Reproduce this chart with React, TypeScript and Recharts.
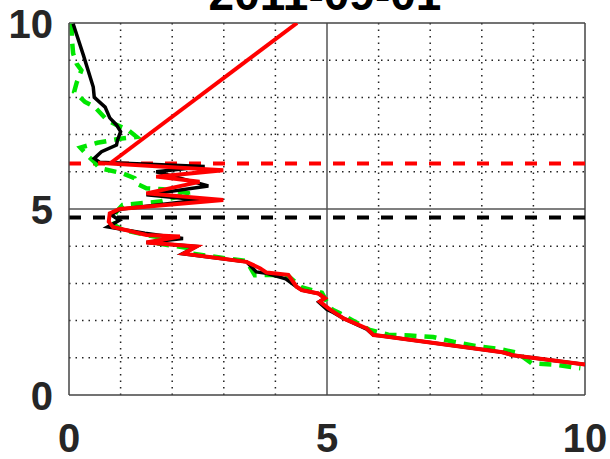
import React from 'react';
import { LineChart, Line, XAxis, YAxis, ReferenceLine } from 'recharts';

const TITLE = '2011-09-01';

const axisTicks = [0, 5, 10];
const gridSteps = [1, 2, 3, 4, 6, 7, 8, 9];

const blackLevel = 4.77;
const redLevel = 6.22;

const blackProfile = [
  { x: 0.08, y: 9.98 }, { x: 0.28, y: 9.13 }, { x: 0.47, y: 8.28 }, { x: 0.49, y: 8.0 },
  { x: 0.7, y: 7.74 }, { x: 0.79, y: 7.45 }, { x: 0.92, y: 7.26 }, { x: 1.0, y: 7.08 },
  { x: 0.94, y: 6.85 }, { x: 0.92, y: 6.72 }, { x: 0.63, y: 6.54 }, { x: 0.49, y: 6.36 },
  { x: 0.59, y: 6.26 }, { x: 2.63, y: 6.14 }, { x: 1.69, y: 6.0 }, { x: 2.7, y: 5.62 },
  { x: 1.5, y: 5.38 }, { x: 2.53, y: 5.24 }, { x: 0.98, y: 4.99 }, { x: 0.82, y: 4.84 },
  { x: 0.98, y: 4.7 }, { x: 0.75, y: 4.52 }, { x: 1.47, y: 4.35 }, { x: 2.21, y: 4.21 },
  { x: 1.5, y: 4.1 }, { x: 2.47, y: 3.99 }, { x: 2.2, y: 3.8 }, { x: 3.44, y: 3.58 },
  { x: 3.63, y: 3.31 }, { x: 3.83, y: 3.27 }, { x: 4.2, y: 3.12 }, { x: 4.41, y: 2.91 },
  { x: 4.51, y: 2.82 }, { x: 4.83, y: 2.73 }, { x: 4.96, y: 2.6 }, { x: 4.84, y: 2.5 },
  { x: 5.0, y: 2.3 }, { x: 5.12, y: 2.22 }, { x: 5.32, y: 2.06 }, { x: 5.77, y: 1.77 },
  { x: 5.9, y: 1.61 }, { x: 6.03, y: 1.59 }, { x: 8.4, y: 1.15 }, { x: 8.6, y: 1.07 },
  { x: 10.0, y: 0.82 },
];

const greenProfile = [
  { x: 0.05, y: 9.98 }, { x: 0.06, y: 9.5 }, { x: 0.08, y: 9.18 }, { x: 0.15, y: 8.9 },
  { x: 0.24, y: 8.73 }, { x: 0.15, y: 8.4 }, { x: 0.1, y: 8.15 }, { x: 0.31, y: 7.88 },
  { x: 0.5, y: 7.74 }, { x: 0.73, y: 7.4 }, { x: 0.92, y: 7.26 }, { x: 1.15, y: 7.12 },
  { x: 1.31, y: 6.94 }, { x: 0.95, y: 6.88 }, { x: 0.55, y: 6.78 }, { x: 0.22, y: 6.65 },
  { x: 0.35, y: 6.45 }, { x: 0.48, y: 6.28 }, { x: 0.59, y: 6.1 }, { x: 1.04, y: 5.96 },
  { x: 1.27, y: 5.83 }, { x: 1.3, y: 5.69 }, { x: 1.5, y: 5.56 }, { x: 1.82, y: 5.53 },
  { x: 2.34, y: 5.42 }, { x: 1.76, y: 5.2 }, { x: 1.04, y: 5.11 }, { x: 0.92, y: 4.93 },
  { x: 0.85, y: 4.75 }, { x: 0.9, y: 4.55 }, { x: 1.04, y: 4.44 }, { x: 1.5, y: 4.3 },
  { x: 1.9, y: 4.2 }, { x: 1.6, y: 4.1 }, { x: 2.3, y: 3.95 }, { x: 2.34, y: 3.81 },
  { x: 3.44, y: 3.6 }, { x: 3.6, y: 3.22 }, { x: 3.85, y: 3.23 }, { x: 4.25, y: 3.2 },
  { x: 4.5, y: 2.9 }, { x: 4.9, y: 2.75 }, { x: 5.0, y: 2.5 }, { x: 5.1, y: 2.3 },
  { x: 5.25, y: 2.2 }, { x: 5.54, y: 1.97 }, { x: 5.83, y: 1.75 }, { x: 6.19, y: 1.62 },
  { x: 6.61, y: 1.6 }, { x: 7.06, y: 1.56 }, { x: 7.45, y: 1.43 }, { x: 7.91, y: 1.31 },
  { x: 8.36, y: 1.23 }, { x: 8.68, y: 1.14 }, { x: 8.97, y: 0.85 }, { x: 9.43, y: 0.81 },
  { x: 9.91, y: 0.72 },
];

const redProfile = [
  { x: 0.56, y: 6.24 }, { x: 2.99, y: 6.04 }, { x: 1.69, y: 5.87 }, { x: 2.53, y: 5.73 },
  { x: 1.5, y: 5.42 }, { x: 2.99, y: 5.24 }, { x: 0.98, y: 5.0 }, { x: 0.79, y: 4.88 },
  { x: 0.77, y: 4.66 }, { x: 0.85, y: 4.52 }, { x: 1.5, y: 4.3 }, { x: 2.15, y: 4.26 },
  { x: 1.5, y: 4.1 }, { x: 2.47, y: 3.99 }, { x: 2.22, y: 3.8 }, { x: 3.44, y: 3.58 },
  { x: 3.7, y: 3.41 }, { x: 3.83, y: 3.29 }, { x: 4.25, y: 3.23 }, { x: 4.41, y: 2.91 },
  { x: 4.51, y: 2.82 }, { x: 4.83, y: 2.73 }, { x: 4.96, y: 2.6 }, { x: 4.86, y: 2.51 },
  { x: 5.03, y: 2.33 }, { x: 5.12, y: 2.24 }, { x: 5.32, y: 2.06 }, { x: 5.77, y: 1.79 },
  { x: 5.9, y: 1.61 }, { x: 6.03, y: 1.59 }, { x: 8.4, y: 1.15 }, { x: 8.6, y: 1.07 },
  { x: 10.0, y: 0.82 },
];

const redSlope = [
  { x: 0.8, y: 6.23 },
  { x: 4.42, y: 10.0 },
];

const FONT = '"Liberation Sans", Arial, sans-serif';

function XTick(props: any) {
  const { x, payload } = props;
  return (
    <text x={x} y={452} textAnchor="middle" fontFamily={FONT} fontWeight="bold" fontSize={40} fill="#262626">
      {payload.value}
    </text>
  );
}

function YTick(props: any) {
  const { y, payload } = props;
  return (
    <text x={53} y={y + 15} textAnchor="end" fontFamily={FONT} fontWeight="bold" fontSize={40} fill="#262626">
      {payload.value}
    </text>
  );
}

export default function App() {
  return (
    <div style={{ position: 'absolute', left: 0, top: 0, width: 610, height: 459, background: '#fff' }}>
      <LineChart width={610} height={459} margin={{ top: 23, right: 25, bottom: 0, left: 9 }}>
        <XAxis
          type="number"
          dataKey="x"
          domain={[0, 10]}
          ticks={axisTicks}
          allowDataOverflow
          tickLine={false}
          axisLine={{ stroke: '#444', strokeWidth: 1.5 }}
          height={64}
          tick={XTick}
        />
        <YAxis
          type="number"
          domain={[0, 10]}
          ticks={axisTicks}
          allowDataOverflow
          tickLine={false}
          axisLine={{ stroke: '#444', strokeWidth: 1.5 }}
          width={60}
          tick={YTick}
        />
        {gridSteps.map((v) => (
          <ReferenceLine key={'gx' + v} x={v} stroke="#222" strokeWidth={1.5} strokeDasharray="1.5 5" />
        ))}
        {gridSteps.map((v) => (
          <ReferenceLine key={'gy' + v} y={v} stroke="#222" strokeWidth={1.5} strokeDasharray="1.5 5" />
        ))}
        <ReferenceLine x={5} stroke="#555" strokeWidth={1.5} />
        <ReferenceLine y={5} stroke="#555" strokeWidth={1.5} />
        <ReferenceLine x={10} stroke="#444" strokeWidth={1.5} />
        <ReferenceLine y={10} stroke="#444" strokeWidth={1.5} />
        <ReferenceLine y={redLevel} stroke="#ff0000" strokeWidth={4} strokeDasharray="12 12" />
        <ReferenceLine y={blackLevel} stroke="#000" strokeWidth={4} strokeDasharray="12 12" />
        <Line data={greenProfile} dataKey="y" type="linear" stroke="#00e600" strokeWidth={4.5} strokeDasharray="12 8" dot={false} isAnimationActive={false} />
        <Line data={blackProfile} dataKey="y" type="linear" stroke="#000" strokeWidth={3.5} dot={false} isAnimationActive={false} />
        <Line data={redProfile} dataKey="y" type="linear" stroke="#ff0000" strokeWidth={4} dot={false} isAnimationActive={false} />
        <Line data={redSlope} dataKey="y" type="linear" stroke="#ff0000" strokeWidth={4} dot={false} isAnimationActive={false} />
      </LineChart>
      <svg width={610} height={459} style={{ position: 'absolute', left: 0, top: 0, pointerEvents: 'none' }}>
        <text x={325} y={10} textAnchor="middle" fontFamily={FONT} fontWeight="bold" fontSize={46} fill="#000">
          {TITLE}
        </text>
      </svg>
    </div>
  );
}
